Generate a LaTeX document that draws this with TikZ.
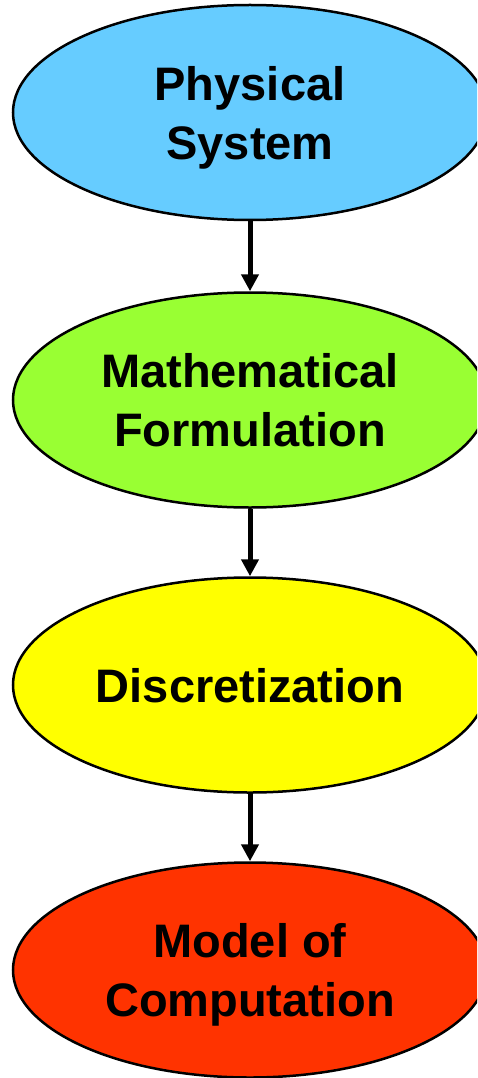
\documentclass[tikz,border=0pt]{standalone}
\usepackage{fontspec}
\setmainfont{Liberation Sans}
\usepackage{xcolor}
\usetikzlibrary{arrows.meta,shapes.geometric}
\definecolor{skyblue}{HTML}{66CCFF}
\definecolor{limegreen}{HTML}{99FF33}
\definecolor{brightyellow}{HTML}{FFFF00}
\definecolor{redorange}{HTML}{FF3300}
\begin{document}
\begin{tikzpicture}[x=1pt,y=-1pt,
  stage/.style={ellipse,draw=black,line width=2.5pt,minimum width=474pt,minimum height=215pt,inner sep=0pt,align=center,text depth=0pt,font=\fontsize{47}{59}\selectfont\bfseries},
  flow/.style={-{Triangle[width=17pt,length=17pt]},line width=5pt,black}]
\useasboundingbox (0,0) rectangle (477,1078);
\clip (0,0) rectangle (477,1078);
% stages
\node[stage,fill=skyblue]      (phys) at (250,112.5) {Physical\\System};
\node[stage,fill=limegreen]    (math) at (250,400)   {Mathematical\\Formulation};
\node[stage,fill=brightyellow] (disc) at (250,685)   {Discretization};
\node[stage,fill=redorange]    (comp) at (250,970)   {Model of\\Computation};
% arrows
\draw[flow] (phys) -- (math);
\draw[flow] (math) -- (disc);
\draw[flow] (disc) -- (comp);
\end{tikzpicture}
\end{document}
